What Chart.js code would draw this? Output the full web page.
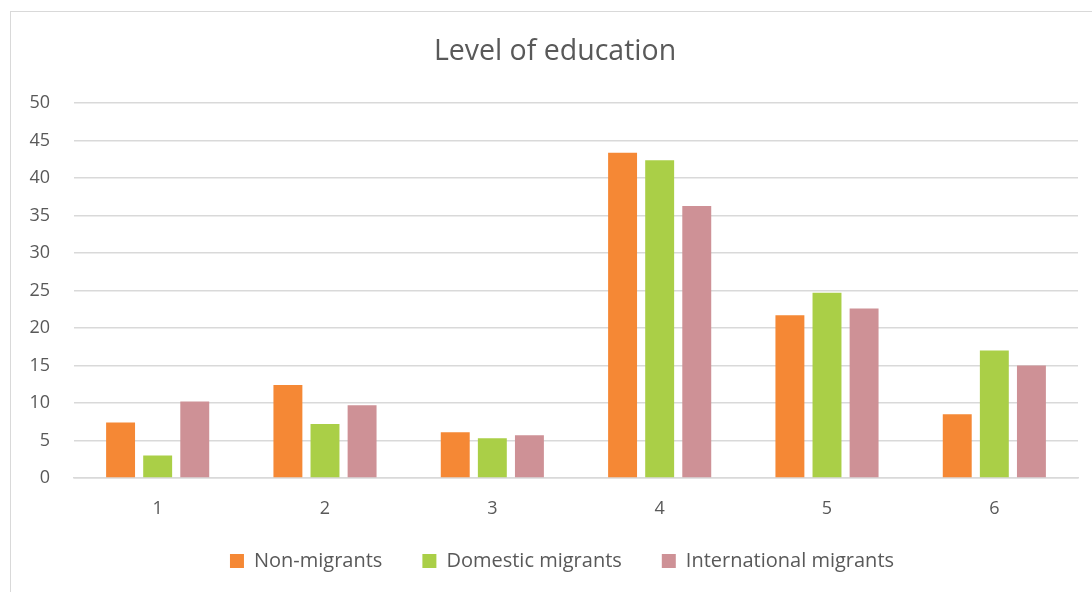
<!DOCTYPE html>
<html>
<head>
<meta charset="utf-8">
<script src="https://cdn.jsdelivr.net/npm/chart.js@4.4.1/dist/chart.umd.min.js"></script>
<style>
  html, body { margin: 0; padding: 0; background: #ffffff; }
  #frame { position: absolute; left: 10px; top: 11px; width: 1100px; height: 600px;
           border-left: 1px solid #d9d9d9; border-top: 1px solid #d9d9d9; }
  #wrap { position: absolute; left: 0; top: 0; width: 1092px; height: 592px; }
</style>
</head>
<body>
<div id="frame"></div>
<div id="wrap"><canvas id="chart" width="1092" height="592"></canvas></div>
<script>
// Education level categories and share (%) per group
const categories = ['1', '2', '3', '4', '5', '6'];
const nonMigrants = [7.4, 12.4, 6.1, 43.4, 21.7, 8.5];
const domesticMigrants = [3.0, 7.2, 5.3, 42.4, 24.7, 17.0];
const internationalMigrants = [10.2, 9.7, 5.7, 36.3, 22.6, 15.0];
const yTicks = [0, 5, 10, 15, 20, 25, 30, 35, 40, 45, 50];

const textColor = '#595959';
const gridColor = '#d9d9d9';
const fontFamily = '"Open Sans", "Noto Sans", sans-serif';

// Nudge the title and legend blocks so they sit a little right of the canvas centre,
// and lift the legend row slightly closer to the axis labels
const blockShift = {
  id: 'blockShift',
  afterLayout(chart) {
    const move = (box, dx, dy) => {
      if (!box) return;
      box.left += dx; box.right += dx;
      box.top += dy; box.bottom += dy;
    };
    move(chart.titleBlock, 11, 0);
    move(chart.legend, 18, -6);
  }
};

new Chart(document.getElementById('chart'), {
  type: 'bar',
  data: {
    labels: categories,
    datasets: [
      { label: 'Non-migrants', data: nonMigrants, backgroundColor: '#f58835' },
      { label: 'Domestic migrants', data: domesticMigrants, backgroundColor: '#aacf47' },
      { label: 'International migrants', data: internationalMigrants, backgroundColor: '#ce9196' }
    ]
  },
  options: {
    responsive: false,
    animation: false,
    layout: { padding: { left: 10, right: 14, top: 0, bottom: 5 } },
    datasets: { bar: { categoryPercentage: 0.665, barPercentage: 0.78 } },
    plugins: {
      title: {
        display: true,
        text: 'Level of education',
        color: textColor,
        font: { family: fontFamily, size: 28.5, weight: 'normal' },
        padding: { top: 35, bottom: 34 }
      },
      legend: {
        position: 'bottom',
        labels: {
          color: textColor,
          font: { family: fontFamily, size: 20 },
          boxWidth: 14,
          boxHeight: 14,
          padding: 40
        }
      },
      tooltip: { enabled: false }
    },
    scales: {
      x: {
        afterFit: (s) => { s.height = 39; },
        grid: { display: false, drawTicks: false },
        border: { display: true, color: gridColor, width: 1.5 },
        ticks: { color: textColor, font: { family: fontFamily, size: 18 }, padding: 20 }
      },
      y: {
        min: 0,
        max: 50,
        afterBuildTicks: (s) => { s.ticks = yTicks.map(v => ({ value: v })); },
        afterFit: (s) => { s.width = 64; },
        grid: { color: gridColor, lineWidth: 1.5, drawTicks: false },
        border: { display: false },
        ticks: { color: textColor, font: { family: fontFamily, size: 18 }, padding: 24 }
      }
    }
  },
  plugins: [blockShift]
});
</script>
</body>
</html>
